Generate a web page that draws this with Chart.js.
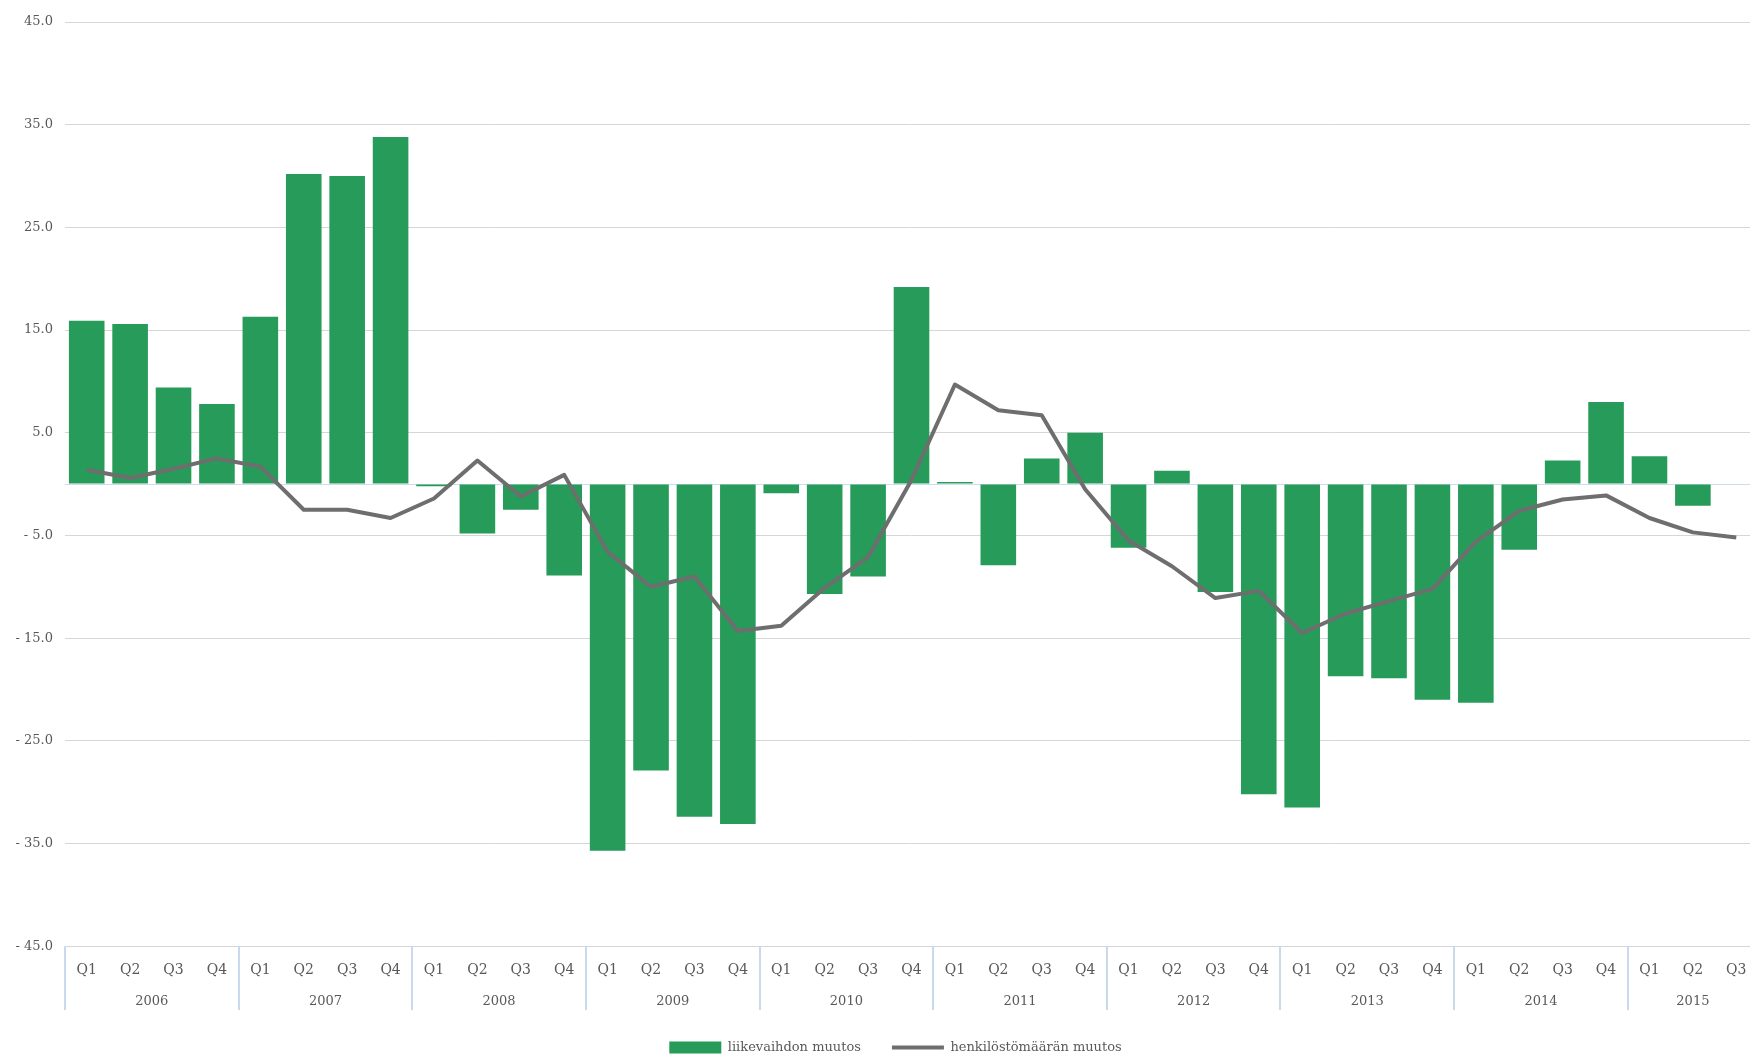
<!DOCTYPE html>
<html>
<head>
<meta charset="utf-8">
<script src="https://cdn.jsdelivr.net/npm/chart.js@4.4.1/dist/chart.umd.min.js"></script>
<style>
  html, body { margin: 0; padding: 0; background: #fff; overflow: hidden; }
  #wrap { width: 1780px; height: 1064px; }
</style>
</head>
<body>
<div id="wrap"><canvas id="chart" width="1780" height="1064"></canvas></div>
<script>
var categories = [
  'Q1 2006', 'Q2 2006', 'Q3 2006', 'Q4 2006',
  'Q1 2007', 'Q2 2007', 'Q3 2007', 'Q4 2007',
  'Q1 2008', 'Q2 2008', 'Q3 2008', 'Q4 2008',
  'Q1 2009', 'Q2 2009', 'Q3 2009', 'Q4 2009',
  'Q1 2010', 'Q2 2010', 'Q3 2010', 'Q4 2010',
  'Q1 2011', 'Q2 2011', 'Q3 2011', 'Q4 2011',
  'Q1 2012', 'Q2 2012', 'Q3 2012', 'Q4 2012',
  'Q1 2013', 'Q2 2013', 'Q3 2013', 'Q4 2013',
  'Q1 2014', 'Q2 2014', 'Q3 2014', 'Q4 2014',
  'Q1 2015', 'Q2 2015', 'Q3 2015'
];
var liikevaihto = [
  15.9, 15.6, 9.4, 7.8,
  16.3, 30.2, 30.0, 33.8,
  -0.2, -4.8, -2.5, -8.9,
  -35.7, -27.9, -32.4, -33.1,
  -0.9, -10.7, -9.0, 19.2,
  0.2, -7.9, 2.5, 5.0,
  -6.2, 1.3, -10.5, -30.2,
  -31.5, -18.7, -18.9, -21.0,
  -21.3, -6.4, 2.3, 8.0,
  2.7, -2.1, null
];
var henkilosto = [
  1.4, 0.6, 1.5, 2.5,
  1.7, -2.5, -2.5, -3.3,
  -1.4, 2.3, -1.2, 0.9,
  -6.6, -10.0, -9.0, -14.3,
  -13.8, -10.1, -7.1, 0.4,
  9.7, 7.2, 6.7, -0.5,
  -5.5, -8.0, -11.1, -10.4,
  -14.5, -12.6, -11.4, -10.2,
  -5.6, -2.6, -1.5, -1.1,
  -3.3, -4.7, -5.2
];
var yTickValues = [-45, -35, -25, -15, -5, 0, 5, 15, 25, 35, 45];

var textColor = '#595959';
var serif = 'DejaVu Serif';

// years and their centre positions, taken from the category list
var years = [];
var yearCenters = [];
var yearStarts = [];
categories.forEach(function(c, i) {
  var y = c.split(' ')[1];
  var k = years.indexOf(y);
  if (k < 0) {
    years.push(y);
    yearCenters.push([i]);
    yearStarts.push(i);
  } else {
    yearCenters[k].push(i);
  }
});
yearCenters = yearCenters.map(function(list) {
  return list.reduce(function(a, b) { return a + b; }, 0) / list.length;
});

var yearLines = {
  id: 'yearLines',
  afterDraw: function(chart) {
    var ctx = chart.ctx;
    var x2 = chart.scales.x2;
    var top = chart.scales.x.top;
    var bottom = x2.bottom;
    ctx.save();
    ctx.strokeStyle = '#c9daef';
    ctx.lineWidth = 2;
    yearStarts.forEach(function(i) {
      var px = Math.round(x2.getPixelForValue(i - 0.5));
      ctx.beginPath();
      ctx.moveTo(px, top);
      ctx.lineTo(px, bottom);
      ctx.stroke();
    });
    ctx.restore();
  }
};

new Chart(document.getElementById('chart').getContext('2d'), {
  type: 'bar',
  data: {
    labels: categories,
    datasets: [{
      label: 'liikevaihdon muutos',
      data: liikevaihto,
      backgroundColor: '#279b59',
      borderWidth: 0,
      barPercentage: 0.82,
      categoryPercentage: 1.0,
      pointStyle: 'rect',
      order: 2
    }, {
      type: 'line',
      label: 'henkilöstömäärän muutos',
      data: henkilosto,
      borderColor: '#6e6e6e',
      backgroundColor: '#6e6e6e',
      borderWidth: 4,
      borderJoinStyle: 'round',
      tension: 0,
      pointRadius: 0,
      pointStyle: 'line',
      order: 1
    }]
  },
  options: {
    responsive: false,
    animation: false,
    layout: { padding: { left: 13, right: 2, top: 22, bottom: 0 } },
    plugins: {
      tooltip: { enabled: false },
      legend: {
        position: 'bottom',
        labels: {
          usePointStyle: true,
          pointStyleWidth: 52,
          boxHeight: 12,
          padding: 31,
          color: textColor,
          font: { family: serif, size: 13 },
          sort: function(a, b) { return a.datasetIndex - b.datasetIndex; }
        }
      }
    },
    scales: {
      y: {
        min: -45,
        max: 45,
        afterBuildTicks: function(scale) {
          scale.ticks = yTickValues.map(function(v) { return { value: v }; });
        },
        afterFit: function(scale) { scale.width = 52; },
        border: { display: false },
        grid: {
          drawTicks: false,
          lineWidth: 1,
          color: function(ctx) {
            return ctx.tick && ctx.tick.value === 0 ? '#cddcee' : '#d6d6d6';
          }
        },
        ticks: {
          padding: 12,
          color: textColor,
          font: { family: serif, size: 13 },
          callback: function(v) {
            if (v === 0) return '';
            return v < 0 ? '- ' + Math.abs(v).toFixed(1) : v.toFixed(1);
          }
        }
      },
      yRight: {
        type: 'linear',
        position: 'right',
        afterFit: function(scale) { scale.width = 20; },
        border: { display: false },
        grid: { display: false, drawTicks: false },
        ticks: { display: false }
      },
      x: {
        weight: 0,
        afterFit: function(scale) { scale.height = 32.8; },
        border: { display: false },
        grid: { display: false, drawTicks: false },
        ticks: {
          autoSkip: false,
          maxRotation: 0,
          padding: 16,
          color: textColor,
          font: { family: serif, size: 14 },
          callback: function(v) { return this.getLabelForValue(v).split(' ')[0]; }
        }
      },
      x2: {
        type: 'linear',
        position: 'bottom',
        weight: 1,
        offset: false,
        min: -0.5,
        max: categories.length - 0.5,
        afterBuildTicks: function(scale) {
          scale.ticks = yearCenters.map(function(c) { return { value: c }; });
        },
        afterFit: function(scale) { scale.height = 31; },
        border: { display: false },
        grid: { display: false, drawTicks: false, offset: false },
        ticks: {
          autoSkip: false,
          maxRotation: 0,
          padding: 15,
          color: textColor,
          font: { family: serif, size: 13 },
          callback: function(v) { return years[yearCenters.indexOf(v)]; }
        }
      }
    }
  },
  plugins: [yearLines]
});
</script>
</body>
</html>
